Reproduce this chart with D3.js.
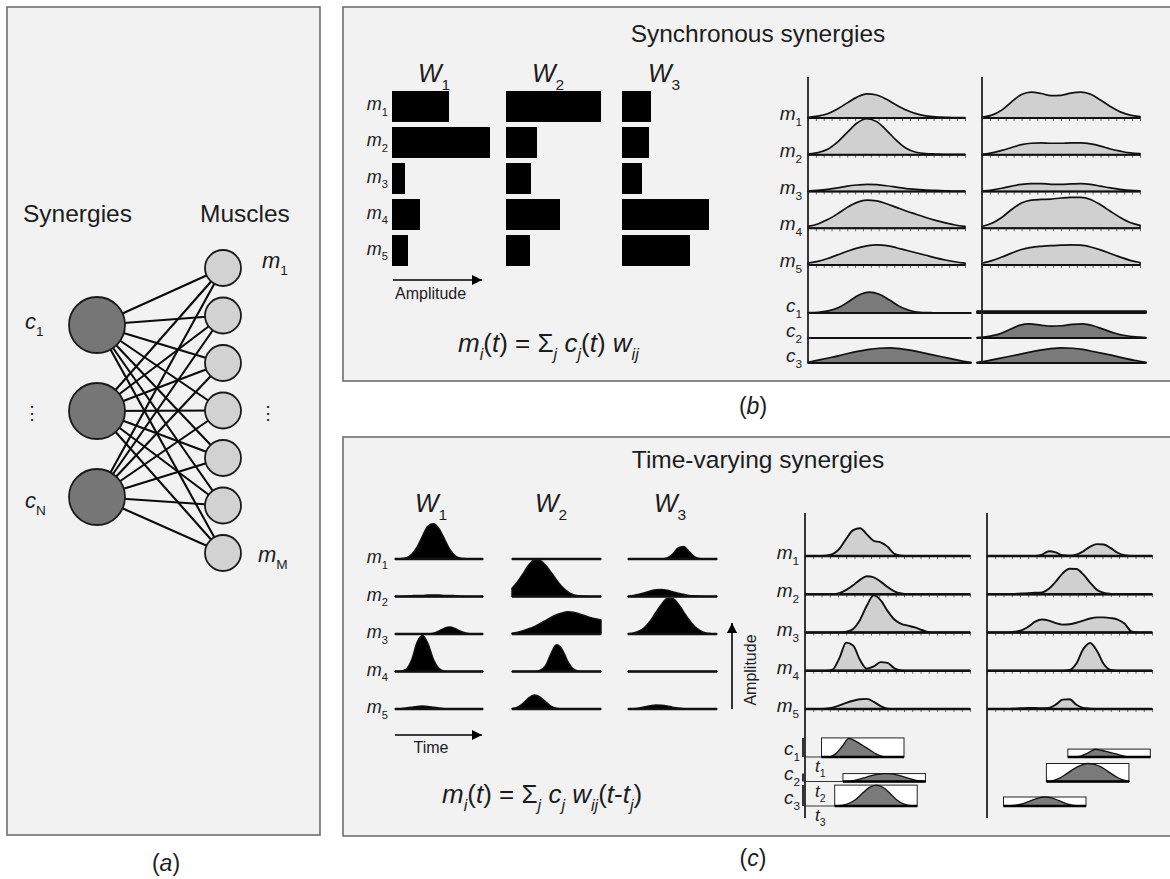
<!DOCTYPE html>
<html><head><meta charset="utf-8">
<script src="https://cdn.jsdelivr.net/npm/d3@7"></script>
<style>
body{margin:0;background:#fff;}
svg{display:block;font-family:"Liberation Sans",Arial,Helvetica,sans-serif;}
</style></head><body>
<svg id="chart" width="1170" height="879"></svg>
<script>
// ---------------- DATA ----------------
const synergyIds = ["c1", "c2", "c3"];
const muscleIds = ["m1", "m2", "m3", "m4", "m5", "m6", "m7"];
const muscleRows = ["m1", "m2", "m3", "m4", "m5"];
const cRows = ["c1", "c2", "c3"];

// (b) synchronous synergy weights (amplitude)
const syncW1 = [0.57, 0.98, 0.13, 0.28, 0.16];
const syncW2 = [0.95, 0.31, 0.25, 0.54, 0.24];
const syncW3 = [0.29, 0.27, 0.20, 0.87, 0.68];

// (b) muscle activations, condition A (left) and B (right)
const syncA_m = [
  [0.02,0.05,0.12,0.25,0.42,0.58,0.67,0.64,0.52,0.36,0.22,0.12,0.06,0.03,0.02,0.01,0.01],
  [0.02,0.06,0.15,0.35,0.62,0.88,1.00,0.92,0.68,0.40,0.18,0.07,0.03,0.02,0.01,0.01,0.01],
  [0.01,0.03,0.06,0.10,0.15,0.18,0.20,0.19,0.16,0.12,0.08,0.06,0.04,0.03,0.02,0.01,0.01],
  [0.05,0.12,0.24,0.40,0.58,0.72,0.78,0.76,0.68,0.58,0.48,0.39,0.30,0.22,0.15,0.09,0.05],
  [0.05,0.10,0.18,0.28,0.38,0.47,0.53,0.56,0.54,0.48,0.41,0.34,0.27,0.20,0.14,0.09,0.05]
];
const syncB_m = [
  [0.02,0.08,0.22,0.45,0.65,0.72,0.68,0.62,0.63,0.69,0.72,0.66,0.50,0.32,0.17,0.08,0.04],
  [0.01,0.05,0.12,0.20,0.28,0.32,0.33,0.32,0.32,0.33,0.33,0.30,0.24,0.16,0.10,0.05,0.03],
  [0.01,0.04,0.09,0.15,0.20,0.22,0.22,0.20,0.20,0.21,0.22,0.20,0.15,0.10,0.06,0.03,0.02],
  [0.05,0.14,0.30,0.52,0.70,0.78,0.80,0.81,0.84,0.86,0.86,0.80,0.65,0.47,0.30,0.16,0.08],
  [0.05,0.12,0.22,0.33,0.43,0.49,0.52,0.54,0.55,0.56,0.55,0.50,0.42,0.32,0.22,0.13,0.07]
];
// (b) synergy coefficients c1..c3
const syncA_c = [
  [0.01,0.02,0.06,0.15,0.32,0.50,0.58,0.52,0.36,0.18,0.07,0.02,0.01,0,0,0,0],
  [0,0,0,0,0,0,0,0,0,0,0,0,0,0,0,0,0],
  [0.02,0.08,0.14,0.20,0.27,0.33,0.38,0.41,0.42,0.40,0.36,0.30,0.24,0.18,0.12,0.06,0.02]
];
const syncB_c = [
  [0.05,0.05,0.05,0.05,0.05,0.05,0.05,0.05,0.05,0.05,0.05,0.05,0.05,0.05,0.05,0.05,0.05],
  [0.01,0.04,0.10,0.22,0.35,0.39,0.36,0.33,0.34,0.38,0.39,0.34,0.24,0.14,0.07,0.03,0.01],
  [0.02,0.06,0.12,0.18,0.24,0.30,0.36,0.40,0.42,0.41,0.38,0.32,0.26,0.20,0.13,0.07,0.02]
];

// (c) time-varying synergies W1..W3 (rows m1..m5)
const tvW1 = [
  [0,0.01,0.03,0.12,0.32,0.62,0.89,0.95,0.82,0.54,0.25,0.08,0.02,0.01,0,0,0],
  [0,0,0.01,0.02,0.03,0.03,0.04,0.04,0.04,0.03,0.03,0.02,0.01,0,0,0,0],
  [0,0,0,0,0,0,0,0.02,0.08,0.16,0.19,0.14,0.07,0.02,0,0,0],
  [0,0.01,0.06,0.30,0.78,0.97,0.75,0.32,0.08,0.01,0,0,0,0,0,0,0],
  [0,0.01,0.03,0.05,0.07,0.08,0.07,0.05,0.03,0.01,0,0,0,0,0,0,0]
];
const tvW2 = [
  [0,0,0,0,0,0,0,0,0,0,0,0,0,0,0,0,0],
  [0.22,0.40,0.62,0.85,0.98,0.97,0.85,0.66,0.45,0.26,0.13,0.05,0.02,0.01,0,0,0],
  [0.02,0.05,0.09,0.14,0.20,0.28,0.36,0.45,0.52,0.57,0.60,0.59,0.55,0.50,0.45,0.41,0.38],
  [0,0,0,0,0,0.03,0.15,0.48,0.72,0.60,0.28,0.07,0.01,0,0,0,0],
  [0.01,0.05,0.15,0.30,0.38,0.33,0.20,0.08,0.02,0,0,0,0,0,0,0,0]
];
const tvW3 = [
  [0,0,0,0,0,0,0,0.03,0.13,0.30,0.34,0.20,0.06,0.01,0,0,0],
  [0.01,0.03,0.06,0.10,0.15,0.18,0.19,0.17,0.13,0.09,0.06,0.03,0.02,0.01,0,0,0],
  [0.01,0.03,0.08,0.18,0.35,0.58,0.80,0.95,0.96,0.82,0.60,0.38,0.20,0.09,0.03,0.01,0],
  [0,0,0,0,0,0,0,0,0,0,0,0,0,0,0,0,0],
  [0,0.01,0.03,0.06,0.09,0.11,0.10,0.08,0.05,0.03,0.01,0,0,0,0,0,0]
];
// (c) muscle patterns, condition A (left) and B (right)
const tvA_m = [
  [0,0,0,0.01,0.05,0.20,0.48,0.72,0.77,0.60,0.42,0.38,0.26,0.06,0.01,0,0,0,0,0,0,0,0,0,0],
  [0,0,0,0,0,0.03,0.12,0.25,0.40,0.50,0.47,0.35,0.20,0.08,0.02,0,0,0,0,0,0,0,0,0,0],
  [0,0,0,0,0,0,0.02,0.10,0.35,0.75,1.03,0.90,0.60,0.36,0.24,0.19,0.14,0.07,0.01,0,0,0,0,0,0],
  [0,0,0,0,0.03,0.35,0.78,0.70,0.30,0.06,0.12,0.24,0.22,0.07,0.01,0,0,0,0,0,0,0,0,0,0],
  [0,0,0,0.01,0.04,0.10,0.17,0.23,0.27,0.28,0.20,0.08,0.01,0,0,0,0,0,0,0,0,0,0,0,0]
];
const tvB_m = [
  [0,0,0,0,0,0,0,0,0.04,0.13,0.10,0.02,0.01,0.04,0.13,0.26,0.33,0.32,0.22,0.09,0.02,0,0,0,0],
  [0,0,0,0,0.01,0.02,0.03,0.04,0.05,0.15,0.35,0.58,0.71,0.70,0.55,0.32,0.12,0.04,0.01,0,0,0,0,0,0],
  [0,0,0,0,0.02,0.06,0.16,0.30,0.36,0.33,0.26,0.22,0.23,0.27,0.33,0.39,0.42,0.42,0.40,0.36,0.25,0.03,0,0,0],
  [0,0,0,0,0,0,0,0,0,0,0,0,0.02,0.20,0.60,0.77,0.55,0.18,0.02,0,0,0,0,0,0],
  [0,0,0,0,0.01,0.02,0.03,0.03,0.02,0.03,0.12,0.26,0.27,0.12,0.03,0.01,0,0,0,0,0,0,0,0,0]
];
// (c) synergy onsets t_j, amplitudes c_j, duration
const tvOnsetA = [0.10, 0.23, 0.18];
const tvAmpA   = [0.53, 0.22, 0.58];
const tvOnsetB = [0.49, 0.36, 0.10];
const tvAmpB   = [0.22, 0.50, 0.25];
const tvDuration = 0.5;
const cShape1 = [0,0,0.15,0.55,0.98,0.82,0.60,0.38,0.15,0.02,0,0,0];
const cShape2 = [0,0.05,0.20,0.45,0.70,0.90,1.00,0.95,0.80,0.55,0.30,0.10,0.02];
const cShape3 = [0,0.03,0.12,0.30,0.60,0.88,1.00,0.90,0.62,0.30,0.10,0.02,0];

// ---------------- DRAW ----------------
const svg = d3.select("#chart");
const INK = "#1c1c1c";

const defs = svg.append("defs");
defs.append("marker").attr("id", "arr").attr("viewBox", "0 0 10 10")
  .attr("refX", 10).attr("refY", 5).attr("markerUnits", "userSpaceOnUse")
  .attr("markerWidth", 15).attr("markerHeight", 10).attr("orient", "auto")
  .append("path").attr("d", "M0,0L10,5L0,10z").attr("fill", "#000");

function rich(g, x, y, parts, size, anchor) {
  const t = g.append("text").attr("x", x).attr("y", y).attr("font-size", size)
    .attr("fill", INK).attr("text-anchor", anchor || "start");
  let shifted = 0;
  parts.forEach(([s, kind]) => {
    const ts = t.append("tspan").text(s);
    const isSub = kind.indexOf("s") >= 0;
    if (kind.indexOf("i") >= 0) ts.attr("font-style", "italic");
    const target = isSub ? size * 0.32 : 0;
    if (target !== shifted) { ts.attr("dy", target - shifted); shifted = target; }
    if (isSub) ts.attr("font-size", size * 0.62);
  });
  return t;
}
function subLabel(g, x, y, base, sub, size, anchor) {
  return rich(g, x, y, [[base, "i"], [sub, "s"]], size, anchor);
}

function panel(x, y, w, h) {
  svg.append("rect").attr("x", x).attr("y", y).attr("width", w).attr("height", h)
    .attr("fill", "#f2f2f2").attr("stroke", "#6e6e6e").attr("stroke-width", 1.6);
}
panel(7, 7, 313, 828);
panel(343, 7, 840, 374);
panel(343, 437, 840, 399);

function panelLabel(x, y, letter) {
  rich(svg, x, y, [["(", "n"], [letter, "i"], [")", "n"]], 23, "middle");
}
panelLabel(166, 871, "a");
panelLabel(753, 414, "b");
panelLabel(753, 866, "c");

// ---------- (a) network ----------
const ga = svg.append("g");
ga.append("text").attr("x", 23).attr("y", 222).attr("font-size", 24.5).attr("fill", INK).text("Synergies");
ga.append("text").attr("x", 200).attr("y", 222).attr("font-size", 24.5).attr("fill", INK).text("Muscles");
const synY = d3.scalePoint(synergyIds, [325, 497]);
const musY = d3.scalePoint(muscleIds, [268, 553]);
const synX = 97, musX = 223;
const edges = [];
synergyIds.forEach(s => muscleIds.forEach(m => edges.push([s, m])));
ga.selectAll("line.edge").data(edges).join("line").attr("class", "edge")
  .attr("x1", synX).attr("y1", d => synY(d[0])).attr("x2", musX).attr("y2", d => musY(d[1]))
  .attr("stroke", "#0a0a0a").attr("stroke-width", 2.1);
ga.selectAll("circle.syn").data(synergyIds).join("circle").attr("class", "syn")
  .attr("cx", synX).attr("cy", d => synY(d)).attr("r", 28)
  .attr("fill", "#767676").attr("stroke", "#1a1a1a").attr("stroke-width", 1.8);
ga.selectAll("circle.mus").data(muscleIds).join("circle").attr("class", "mus")
  .attr("cx", musX).attr("cy", d => musY(d)).attr("r", 18)
  .attr("fill", "#d2d2d2").attr("stroke", "#1a1a1a").attr("stroke-width", 1.8);
subLabel(ga, 25, 329, "c", "1", 22);
ga.append("text").attr("x", 32).attr("y", 419).attr("font-size", 18).attr("text-anchor", "middle").attr("fill", INK).text("⋮");
subLabel(ga, 25, 508, "c", "N", 22);
subLabel(ga, 262, 268, "m", "1", 22);
ga.append("text").attr("x", 268).attr("y", 419).attr("font-size", 18).attr("text-anchor", "middle").attr("fill", INK).text("⋮");
subLabel(ga, 258, 562, "m", "M", 22);

// ---------- (b) synchronous ----------
const gb = svg.append("g");
gb.append("text").attr("x", 758).attr("y", 42).attr("font-size", 24.5).attr("text-anchor", "middle").attr("fill", INK).text("Synchronous synergies");
const barY = d3.scaleBand(muscleRows, [91, 266]).paddingInner(0.14).paddingOuter(0);
const barX = d3.scaleLinear([0, 1], [0, 100]);
const syncSets = [syncW1, syncW2, syncW3];
const barCols = [392, 506, 622];
syncSets.forEach((vals, j) => {
  const g = gb.append("g").attr("transform", `translate(${barCols[j]},0)`);
  g.selectAll("rect").data(vals).join("rect")
    .attr("x", 0).attr("y", (d, i) => barY(muscleRows[i]))
    .attr("width", d => barX(d)).attr("height", barY.bandwidth()).attr("fill", "#000");
  subLabel(g, 26, 82, "W", String(j + 1), 25);
});
muscleRows.forEach(m => subLabel(gb, 388, barY(m) + barY.bandwidth() / 2 + 4, "m", m.slice(1), 18, "end"));
gb.append("line").attr("x1", 393).attr("x2", 482).attr("y1", 280).attr("y2", 280)
  .attr("stroke", "#000").attr("stroke-width", 1.6).attr("marker-end", "url(#arr)");
gb.append("text").attr("x", 395).attr("y", 299).attr("font-size", 16).attr("fill", INK).text("Amplitude");
rich(gb, 458, 352, [["m", "i"], ["i", "si"], ["(", "n"], ["t", "i"], [") = Σ", "n"], ["j", "si"], [" ", "n"],
  ["c", "i"], ["j", "si"], ["(", "n"], ["t", "i"], [")  ", "n"], ["w", "i"], ["ij", "si"]], 26);

function curveRow(g, values, x0, x1, yBase, ampPx, fill, opts) {
  opts = opts || {};
  const x = d3.scaleLinear([0, values.length - 1], [x0, x1]);
  const a = d3.scaleLinear([0, 1], [0, ampPx]);
  const area = d3.area().x((d, i) => x(i)).y0(yBase).y1(d => yBase - a(d)).curve(d3.curveMonotoneX);
  if (opts.ticks) {
    const xt = d3.scaleLinear([0, 1], [x0, x1]);
    const ax = d3.axisBottom(xt).tickValues(d3.range(0, 1.0001, 0.05)).tickSize(3).tickFormat("");
    const ag = g.append("g").attr("transform", `translate(0,${yBase})`).call(ax);
    ag.select(".domain").remove();
    ag.selectAll("line").attr("stroke", "#444").attr("stroke-width", 0.8);
  }
  g.append("path").datum(values).attr("d", area).attr("fill", fill)
    .attr("stroke", "#111").attr("stroke-width", opts.sw || 1.7).attr("stroke-linejoin", "round");
  g.append("line").attr("x1", x0).attr("x2", x1).attr("y1", yBase).attr("y2", yBase)
    .attr("stroke", "#111").attr("stroke-width", opts.bw || 2.2);
}

const syncRowY = d3.scalePoint(muscleRows, [118, 265]);
const syncCY = d3.scalePoint(cRows, [313, 363]);
const syncAmp = 36;
const syncCols = [{m: syncA_m, c: syncA_c, ax: 808, mx: [808, 965], cx: [808, 971]},
                  {m: syncB_m, c: syncB_c, ax: 982, mx: [982, 1140], cx: [977, 1146]}];
syncCols.forEach(col => {
  col.m.forEach((vals, i) => curveRow(gb, vals, col.mx[0], col.mx[1], syncRowY(muscleRows[i]), syncAmp, "#d0d0d0", {ticks: true}));
  col.c.forEach((vals, i) => curveRow(gb, vals, col.cx[0], col.cx[1], syncCY(cRows[i]), syncAmp, "#7a7a7a", {}));
  gb.append("line").attr("x1", col.ax).attr("x2", col.ax).attr("y1", 77).attr("y2", 363)
    .attr("stroke", "#222").attr("stroke-width", 1.8);
});
muscleRows.forEach(m => subLabel(gb, 802, syncRowY(m) + 2, "m", m.slice(1), 19, "end"));
cRows.forEach(c => subLabel(gb, 802, syncCY(c) - 1, "c", c.slice(1), 19, "end"));

// ---------- (c) time-varying ----------
const gc = svg.append("g");
gc.append("text").attr("x", 758).attr("y", 468).attr("font-size", 24.5).attr("text-anchor", "middle").attr("fill", INK).text("Time-varying synergies");
const tvRowY = d3.scalePoint(muscleRows, [559, 709]);
const tvSets = [tvW1, tvW2, tvW3];
const tvCols = [[395, 483], [512, 601], [628, 717]];
tvSets.forEach((set, j) => {
  set.forEach((vals, i) => curveRow(gc, vals, tvCols[j][0], tvCols[j][1], tvRowY(muscleRows[i]), 37, "#000", {sw: 1.5, bw: 2.6}));
  subLabel(gc, tvCols[j][0] + 20 + j * 3, 512, "W", String(j + 1), 25);
});
muscleRows.forEach(m => subLabel(gc, 388, tvRowY(m) + 4, "m", m.slice(1), 18, "end"));
gc.append("line").attr("x1", 395).attr("x2", 482).attr("y1", 735).attr("y2", 735)
  .attr("stroke", "#000").attr("stroke-width", 1.6).attr("marker-end", "url(#arr)");
gc.append("text").attr("x", 431).attr("y", 753).attr("font-size", 16).attr("text-anchor", "middle").attr("fill", INK).text("Time");
gc.append("line").attr("x1", 732).attr("x2", 732).attr("y1", 709).attr("y2", 623)
  .attr("stroke", "#000").attr("stroke-width", 1.6).attr("marker-end", "url(#arr)");
gc.append("text").attr("transform", "translate(756,670) rotate(-90)").attr("font-size", 16)
  .attr("text-anchor", "middle").attr("fill", INK).text("Amplitude");
rich(gc, 442, 803, [["m", "i"], ["i", "si"], ["(", "n"], ["t", "i"], [") = Σ", "n"], ["j", "si"], [" ", "n"],
  ["c", "i"], ["j", "si"], [" ", "n"], ["w", "i"], ["ij", "si"], ["(", "n"], ["t", "i"], ["-", "n"], ["t", "i"], ["j", "si"], [")", "n"]], 26);

const tvmY = d3.scalePoint(muscleRows, [556, 709]);
const tvcY = d3.scalePoint(cRows, [757, 806]);
const cShapes = [cShape1, cShape2, cShape3];
const tvRight = [{m: tvA_m, on: tvOnsetA, amp: tvAmpA, x: [805, 970], brackets: true},
                 {m: tvB_m, on: tvOnsetB, amp: tvAmpB, x: [987, 1152], brackets: false}];
tvRight.forEach(col => {
  col.m.forEach((vals, i) => curveRow(gc, vals, col.x[0], col.x[1], tvmY(muscleRows[i]), 36, "#d0d0d0", {ticks: true, sw: 1.9, bw: 2.3}));
  const tx = d3.scaleLinear([0, 1], col.x);
  const ca = d3.scaleLinear([0, 1], [0, 36]);
  cRows.forEach((c, j) => {
    const base = tvcY(c), bx = tx(col.on[j]), bw = tx(col.on[j] + tvDuration) - bx, h = ca(col.amp[j]);
    gc.append("rect").attr("x", bx).attr("y", base - h).attr("width", bw).attr("height", h)
      .attr("fill", "#fff").attr("stroke", "#222").attr("stroke-width", 1);
    const sx = d3.scaleLinear([0, cShapes[j].length - 1], [bx, bx + bw]);
    const area = d3.area().x((d, i) => sx(i)).y0(base).y1(d => base - h * d).curve(d3.curveMonotoneX);
    gc.append("path").datum(cShapes[j]).attr("d", area).attr("fill", "#7a7a7a")
      .attr("stroke", "#111").attr("stroke-width", 1.3);
    gc.append("line").attr("x1", bx).attr("x2", bx + bw).attr("y1", base).attr("y2", base)
      .attr("stroke", "#000").attr("stroke-width", 2.4);
    if (col.brackets) {
      gc.append("line").attr("x1", col.x[0]).attr("x2", bx).attr("y1", base).attr("y2", base)
        .attr("stroke", "#333").attr("stroke-width", 1);
      gc.append("line").attr("x1", col.x[0] - 2).attr("x2", col.x[0] - 2).attr("y1", base - h).attr("y2", base)
        .attr("stroke", "#333").attr("stroke-width", 2);
      subLabel(gc, col.x[0] + 10, base + 15, "t", String(j + 1), 17);
      subLabel(gc, col.x[0] - 5, base - 2, "c", String(j + 1), 19, "end");
    }
  });
  gc.append("line").attr("x1", col.x[0]).attr("x2", col.x[0]).attr("y1", 513).attr("y2", 818)
    .attr("stroke", "#222").attr("stroke-width", 1.8);
});
muscleRows.forEach(m => subLabel(gc, 799, tvmY(m) + 3, "m", m.slice(1), 19, "end"));
</script></body></html>
